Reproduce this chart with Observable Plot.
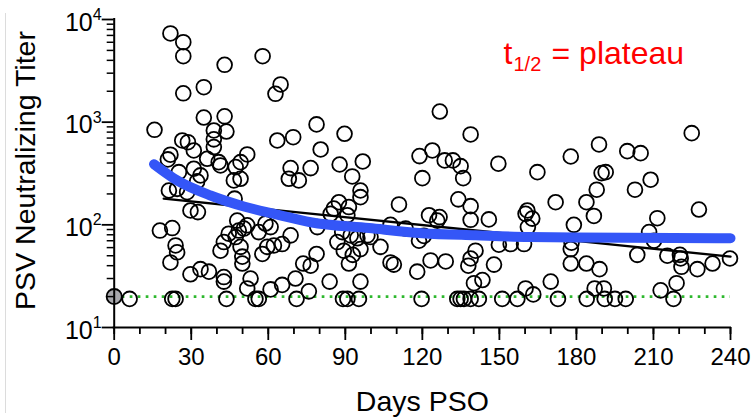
<!DOCTYPE html>
<html><head><meta charset="utf-8">
<script src="https://cdn.jsdelivr.net/npm/d3@7"></script>
<script src="https://cdn.jsdelivr.net/npm/@observablehq/plot@0.6"></script>
<style>
body{margin:0;background:#fff;}
#chart{position:relative;width:753px;height:418px;}
#edge{position:absolute;left:5px;top:13px;width:1px;height:400px;background:#dcdcdc;}
svg{display:block;}
</style></head><body>
<div id="chart"><div id="edge"></div></div>
<script>
// Days post symptom onset and neutralizing titers
const days = [21.9,26.9,26.9,43.0,57.8,26.9,34.9,64.8,62.8,15.7,34.9,43.0,43.7,38.8,38.8,38.8,26.5,28.7,31.0,21.9,
  20.9,36.2,40.7,41.4,51.8,49.2,47.3,63.5,69.7,78.8,80.4,68.7,76.5,31.0,25.2,33.6,32.3,49.2,46.6,68.0,
  71.9,89.7,87.8,96.8,92.7,95.9,95.9,126.8,138.8,118.9,123.9,128.7,131.9,134.9,135.9,120.0,134.0,138.8,149.6,110.9,
  164.8,177.8,188.8,199.8,205.0,224.9,189.8,191.4,187.9,208.9,202.8,171.9,183.9,160.9,227.7,186.8,179.0,160.2,162.8,161.1,
  159.6,211.5,208.3,210.2,178.1,177.8,177.8,183.9,189.0,203.7,215.4,220.3,220.6,220.9,227.1,233.0,239.8,170.0,160.2,163.2,
  187.1,190.7,212.8,219.0,
  122.6,126.7,125.8,145.9,138.8,107.6,85.5,87.5,91.4,84.3,90.8,79.1,88.8,92.1,94.7,86.9,95.9,89.4,92.9,91.4,
  98.6,103.7,99.8,113.5,118.7,120.6,107.6,108.9,118.0,123.2,129.1,140.7,138.8,137.9,147.9,149.8,154.4,83.9,95.9,140.1,143.4,
  21.3,24.5,28.4,29.7,32.6,46.9,17.8,22.6,23.9,24.5,21.9,29.7,33.6,36.9,42.7,42.7,41.4,42.7,44.6,47.3,
  48.5,50.5,47.9,51.8,56.3,58.9,60.9,49.2,49.9,49.9,53.1,51.8,57.7,59.6,62.2,65.4,68.7,78.8,76.5,73.6,
  70.6,65.4,60.9,75.8];
const titers = [7310,6010,4390,3620,4390,1910,2190,2330,1890,843,1110,1140,811,830,680,572,663,638,530,482,
  434,440,408,379,485,408,365,663,714,951,542,357,357,352,326,303,265,281,271,281,
  271,771,387,414,296,216,186,1270,759,467,530,424,424,373,285,285,177,152,394,158,
  326,463,607,522,499,782,319,326,220,275,220,166,166,138,141,122,100,128,115,95,
  65,116,85,70,67,58,42,42,37,51,50,51,47,39,37,42,47,28,24,21,
  24,24,23,27,
  124,119,110,113,112,100,144,166,149,128,124,95,85,79,74,68,58,56,51,42,
  79,61,76,92,70,78,43,41,35,45,44,56,47,40,41,64,65,28,28,27,29,
  216,224,208,138,133,180,88,93,63,54,43,33,37,35,31,28,56,68,82,76,
  88,92,110,99,85,103,95,61,49,42,30,24,52,61,63,65,79,52,40,42,
  30,26,23.5,22.5];
// samples at the limit of detection
const lodDays = [6.0,22.6,23.9,43.7,55.0,56.3,71.0,89.1,90.8,95.3,119.7,133.6,134.9,136.2,138.8,142.0,
  151.1,157.0,172.8,184.0,191.0,195.0,199.2,217.8];
const lodTiter = 19;
const lodLimit = 20;
const baselineDay = [0];
const baselineTiter = [20];
// fitted curves
const fitDays = [19.3, 240];
const fitTiters = [180, 49];
const plateauDays = [15.5, 24.5, 37.5, 50.5, 63.5, 76.5, 99.2, 120, 140.7, 161.5, 200, 240];
const plateauTiters = [390, 271, 193, 151, 126, 106, 93, 83, 79, 76, 75, 74];
// ticks
const xTicks = [0,30,60,90,120,150,180,210,240];
const xMinor = d3.range(0, 241, 10);
const yTicks = [10,100,1000,10000];
const yMinor = [10,100,1000].flatMap(b => [2,3,4,5,6,7,8,9].map(m => m*b));

const pts = days.map((d,i) => ({day:d, titer:titers[i]}))
  .concat(lodDays.map(d => ({day:d, titer:lodTiter})));
const fit = fitDays.map((d,i) => ({day:d, titer:fitTiters[i]}));
const plat = plateauDays.map((d,i) => ({day:d, titer:plateauTiters[i]}));
const base = baselineDay.map((d,i) => ({day:d, titer:baselineTiter[i]}));

const font = "'Liberation Sans', Arial, Helvetica, sans-serif";
const chart = Plot.plot({
  width: 753, height: 418,
  marginLeft: 113.7, marginRight: 23, marginTop: 19, marginBottom: 91,
  style: {fontFamily: font, background: "transparent", overflow: "visible", color: "black"},
  x: {domain: [0, 240], label: null},
  y: {type: "log", domain: [10, 10000], label: null},
  marks: [
    Plot.ruleY([lodLimit], {x1: 0, x2: 240, stroke: "#2eb82e", strokeWidth: 2.7, strokeDasharray: "2.7,5.3"}),
    Plot.dot(pts, {x: "day", y: "titer", r: 7.4, stroke: "black", strokeWidth: 1.8, fill: "none"}),
    Plot.line(fit, {x: "day", y: "titer", stroke: "black", strokeWidth: 2.4}),
    Plot.line(plat, {x: "day", y: "titer", stroke: "#3456f7", strokeWidth: 10, strokeLinecap: "round", curve: "monotone-x"}),
    Plot.dot(base, {x: "day", y: "titer", r: 7.6, fill: "#a8a8ad", stroke: "black", strokeWidth: 1.8}),
    Plot.ruleY([10], {x1: 0, x2: 240, stroke: "black", strokeWidth: 2, strokeLinecap: "square"}),
    Plot.ruleX([0], {y1: 10, y2: 10000, stroke: "black", strokeWidth: 2, strokeLinecap: "square"}),
    Plot.axisX({ticks: xMinor, tickSize: 7, tickFormat: () => "", strokeWidth: 1.8, label: null}),
    Plot.axisX({ticks: xTicks, tickSize: 13, tickPadding: 7, fontSize: 24, strokeWidth: 1.8, label: null, tickFormat: d => String(d)}),
    Plot.axisY({ticks: yMinor, tickSize: 7, tickFormat: () => "", strokeWidth: 1.5, label: null}),
    Plot.axisY({ticks: yTicks, tickSize: 12, tickFormat: () => "", strokeWidth: 1.8, label: null}),
    Plot.text(yTicks, {y: d => d, frameAnchor: "left", text: () => "10", textAnchor: "end", lineAnchor: "bottom", dx: -21.5, dy: 11, fontSize: 25}),
    Plot.text(yTicks, {y: d => d, frameAnchor: "left", text: d => String(Math.round(Math.log10(d))), textAnchor: "start", lineAnchor: "bottom", dx: -21.5, dy: 0.5, fontSize: 16}),
    Plot.text(["Days PSO"], {text: d => d, frameAnchor: "bottom", lineAnchor: "bottom", dy: 83, fontSize: 28.5}),
    Plot.text(["PSV Neutralizing Titer"], {text: d => d, frameAnchor: "left", rotate: -90, textAnchor: "middle", lineAnchor: "bottom", dx: -79.7, dy: -3, fontSize: 28.5}),
    Plot.text(["t"], {text: d => d, frameAnchor: "top-left", textAnchor: "start", lineAnchor: "bottom", dx: 389.3, dy: 44.3, fontSize: 32, fill: "#ff0000"}),
    Plot.text(["1/2"], {text: d => d, frameAnchor: "top-left", textAnchor: "start", lineAnchor: "bottom", dx: 399.3, dy: 51, fontSize: 20, fill: "#ff0000"}),
    Plot.text(["= plateau"], {text: d => d, frameAnchor: "top-left", textAnchor: "start", lineAnchor: "bottom", dx: 437.3, dy: 44.3, fontSize: 32, fill: "#ff0000"})
  ]
});
document.getElementById("chart").appendChild(chart);
</script>
</body></html>
